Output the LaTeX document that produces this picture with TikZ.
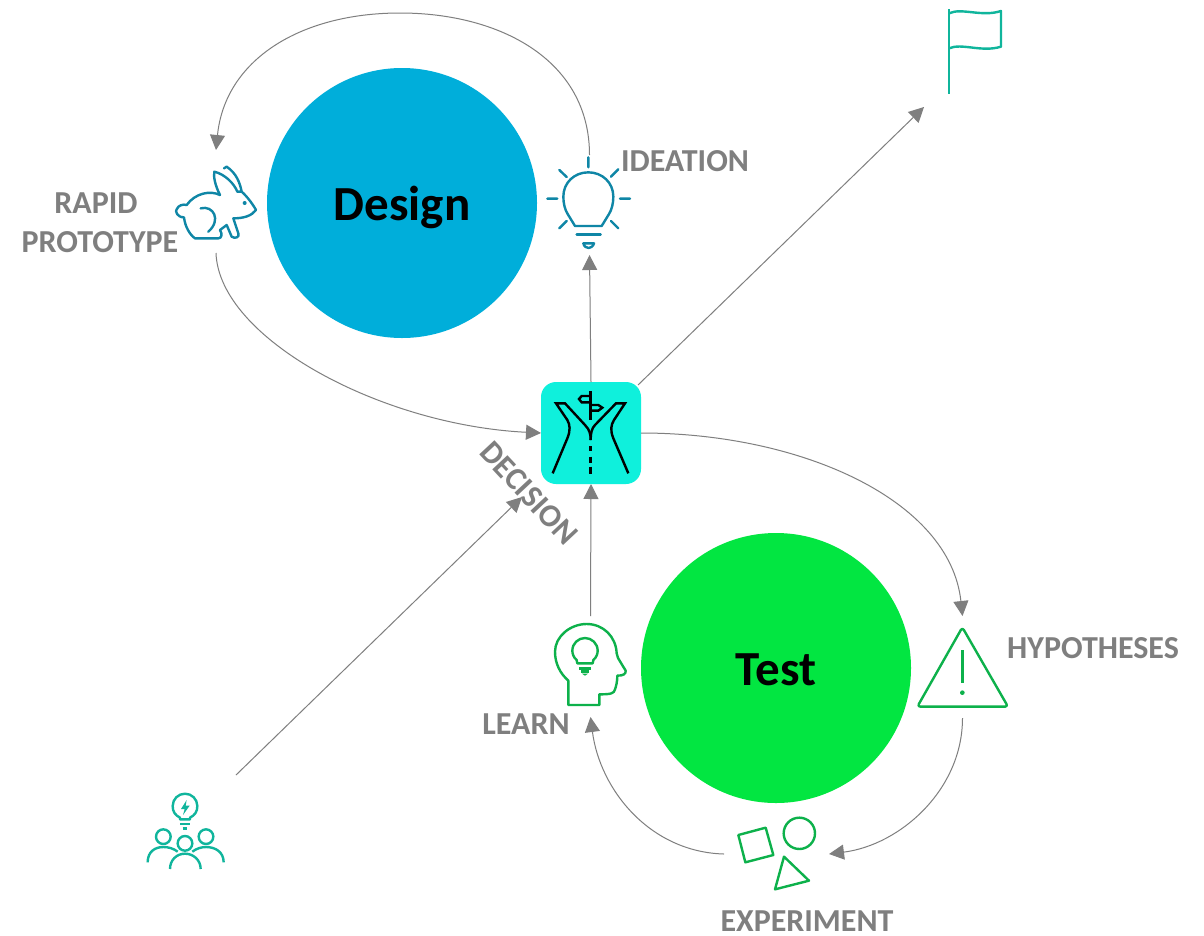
\documentclass[tikz,border=0pt]{standalone}
\usepackage{fontspec}
\setmainfont{Carlito}
\usetikzlibrary{arrows.meta,calc}
\definecolor{linkgray}{HTML}{7F7F7F}
\definecolor{designblue}{HTML}{00AEDA}
\definecolor{testgreen}{HTML}{02E641}
\definecolor{decisioncyan}{HTML}{0FF0DC}
\definecolor{iconblue}{HTML}{0F86A6}
\definecolor{iconteal}{HTML}{10B59C}
\definecolor{icongreen}{HTML}{0DB14B}
\tikzset{
  link/.style={draw=linkgray,line width=1pt,-{Triangle[length=15pt,width=15pt,fill=linkgray]}},
  bigcircle/.style={circle,minimum size=270pt,inner sep=0pt,font=\fontsize{49}{52}\selectfont\bfseries,text=black},
  label/.style={text=linkgray,inner sep=0pt,font=\fontsize{32}{35}\selectfont\bfseries,align=center},
  iconbox/.style={inner sep=0pt,outer sep=0pt,draw=none},
  blueicon/.style={draw=iconblue,line width=2.4pt,line join=round,line cap=round},
  tealicon/.style={draw=iconteal,line width=2.4pt,line join=round},
  greenicon/.style={draw=icongreen,line width=2.4pt,line join=round},
  roadicon/.style={draw=black,line width=2.4pt,line join=miter},
  zoomed/.style={shift={#1},scale=1/3}
}
\begin{document}
\begin{tikzpicture}[x=1pt,y=-1pt]
\useasboundingbox[fill=white] (0,0) rectangle (1204,935);
% main circles
\node[bigcircle,fill=designblue] (design) at (402,203) {\raisebox{-17pt}[0pt][0pt]{Design}};
\node[bigcircle,fill=testgreen] (test) at (776,668) {\raisebox{-17pt}[0pt][0pt]{Test}};
% decision
\node[iconbox,fill=decisioncyan,rounded corners=15pt,minimum width=100pt,minimum height=102pt] (decision) at (591,433) {};
% invisible icon frames
\node[iconbox,minimum width=82pt,minimum height=103pt] (rabbit) at (216,201.5) {};
\node[iconbox,minimum width=84pt,minimum height=100pt] (bulb) at (589.5,205) {};
\node[iconbox,minimum width=78pt,minimum height=99pt] (flag) at (963,57.5) {};
\node[iconbox,minimum width=71pt,minimum height=101pt] (learn) at (590.5,666.5) {};
\node[iconbox,minimum width=90pt,minimum height=102pt] (hypo) at (962.5,667) {};
\node[iconbox,minimum width=105pt,minimum height=70pt] (exper) at (776.5,854) {};
\node[iconbox,minimum width=100pt,minimum height=100pt] (team) at (186,825) {};
\coordinate (decisionin) at ($(decision.south west)+(-19,13)$);
\coordinate (decisionout) at ($(decision.north east)+(-3,3)$);
% connectors
\draw[link] (bulb.north) .. controls +(0,-95) and (500,13) .. (400,13) .. controls (300,13) and (225,60) .. (rabbit.north);
\draw[link] (rabbit.south) .. controls +(3,85) and (380,425) .. (decision.west);
\draw[link] (decision.north) -- (bulb.south);
\draw[link] (decisionout) -- (flag.south west);
\draw[link] (decision.east) .. controls +(160,0) and (950,500) .. (hypo.north);
\draw[link] (hypo.south) .. controls +(0,72) and (900,845) .. (exper.east);
\draw[link] (exper.west) .. controls +(-74,-2) and (600,790) .. (learn.south);
\draw[link] (learn.north) -- (decision.south);
\draw[link] (team.north east) -- (decisionin);
% labels
\node[label] (ideationtext) at (685,161) {IDEATION};
\node[label] (rapidtext) at (96,203) {RAPID};
\node[label] (prototext) at (100,242) {PROTOTYPE};
\node[label,rotate=-47] (decisiontext) at (529,493) {DECISION};
\node[label] (learntext) at (526,724) {LEARN};
\node[label] (hypotext) at (1093,648) {HYPOTHESES};
\node[label] (expertext) at (807,921) {EXPERIMENT};
% rabbit icon
\begin{scope}[zoomed={(160,140)}]
\draw[blueicon] (72,232) .. controls (50,232) and (45,212) .. (50,208) .. controls (55,195) and (70,192) .. (80,195)
 .. controls (105,160) and (150,150) .. (180,165) .. controls (165,135) and (160,110) .. (163,95)
 .. controls (195,103) and (222,130) .. (232,155) -- (245,155) .. controls (262,170) and (280,195) .. (288,210)
 .. controls (275,228) and (250,235) .. (220,235) -- (235,280) .. controls (240,292) and (225,297) .. (215,290)
 -- (200,255) -- (180,270) .. controls (188,282) and (185,295) .. (175,295) -- (105,295) .. controls (90,285) and (75,260) .. (72,232);
\draw[blueicon] (192,85) -- (200,80) .. controls (230,100) and (240,130) .. (245,155);
\draw[blueicon] (122,205) .. controls (160,195) and (185,240) .. (145,275);
\fill[iconblue] (254,189) circle (6);
\end{scope}
% bulb icon
\begin{scope}[zoomed={(530,140)}]
\draw[blueicon] (135,258) -- (113,222) .. controls (105,210) and (100,190) .. (100,170) .. controls (100,128) and (133,97) .. (175,97) .. controls (217,97) and (250,128) .. (250,170) .. controls (250,190) and (245,210) .. (237,222) -- (215,258) -- cycle;
\draw[blueicon] (175,52)--(175,82) (88,90)--(110,111) (265,88)--(243,110) (52,176)--(82,176) (270,176)--(300,176) (88,265)--(110,243) (265,265)--(243,243);
\draw[blueicon] (140,283)--(212,283);
\draw[blueicon] (160,310)--(192,310) .. controls (190,320) and (180,324) .. (176,324) .. controls (170,324) and (162,320) .. (160,310);
\end{scope}
% road icon
\begin{scope}[zoomed={(530,375)}]
\draw[roadicon] (68,295) -- (112,190) .. controls (122,165) and (120,150) .. (112,135) -- (78,85) -- (105,85) -- (165,150) .. controls (180,165) and (182,180) .. (182,195);
\draw[roadicon] (295,295) -- (250,190) .. controls (240,165) and (243,150) .. (252,135) -- (285,85) -- (258,85) -- (195,150) .. controls (185,160) and (182,175) .. (182,195);
\draw[roadicon] (182,48) -- (182,135);
\draw[roadicon] (182,63) -- (155,63) -- (147,72) -- (155,82) -- (182,82);
\draw[roadicon] (182,90) -- (205,90) -- (217,98) -- (205,107) -- (182,107);
\draw[roadicon] (182,213) -- (182,228);
\draw[roadicon,line width=3pt] (182,245) -- (182,265) (182,275) -- (182,296);
\end{scope}
% flag icon
\begin{scope}[zoomed={(905,0)}]
\draw[tealicon] (132,28) -- (132,282);
\draw[tealicon] (132,40) .. controls (170,22) and (230,52) .. (288,33) -- (288,140) .. controls (230,158) and (170,128) .. (132,145);
\end{scope}
% team icon
\begin{scope}[zoomed={(135,785)}]
\draw[tealicon] (135,103) -- (135,98) .. controls (120,90) and (113,80) .. (113,63) .. controls (113,42) and (130,26) .. (150,26) .. controls (170,26) and (187,42) .. (187,63) .. controls (187,80) and (180,90) .. (165,98) -- (165,103) -- cycle;
\draw[tealicon] (135,117) -- (165,117) (143,130) -- (157,130);
\fill[iconteal] (155,45) -- (138,72) -- (149,72) -- (144,90) -- (164,62) -- (152,62) -- cycle;
\draw[tealicon] (85,155) circle (22) (213,155) circle (22) (150,175) circle (22);
\draw[tealicon] (38,232) .. controls (38,200) and (60,186) .. (85,186) .. controls (100,186) and (115,190) .. (128,200);
\draw[tealicon] (266,232) .. controls (266,200) and (240,186) .. (213,186) .. controls (200,186) and (185,190) .. (172,200);
\draw[tealicon] (105,252) .. controls (105,225) and (125,206) .. (150,206) .. controls (175,206) and (197,225) .. (197,252);
\end{scope}
% head icon
\begin{scope}[zoomed={(540,610)}]
\draw[greenicon] (85,285) -- (85,212) .. controls (60,190) and (45,160) .. (45,125) .. controls (45,80) and (90,42) .. (140,42) .. controls (190,42) and (228,80) .. (230,130) .. controls (231,138) and (232,140) .. (234,144) -- (257,182) .. controls (258,192) and (250,197) .. (232,197) .. controls (232,215) and (228,230) .. (225,238) .. controls (222,250) and (215,253) .. (178,253) -- (178,285) -- cycle;
\draw[greenicon] (112,160) -- (110,150) .. controls (100,142) and (97,130) .. (97,122) .. controls (97,100) and (115,84) .. (135,84) .. controls (155,84) and (173,100) .. (173,122) .. controls (173,130) and (170,142) .. (160,150) -- (158,160) -- cycle;
\draw[greenicon] (118,175) -- (152,175) (124,184) -- (146,184);
\fill[icongreen] (126,191) -- (144,191) -- (135,197) -- cycle;
\end{scope}
% warning icon
\begin{scope}[zoomed={(910,620)}]
\draw[greenicon,rounded corners=3pt] (157,22) -- (294,260) -- (22,260) -- cycle;
\draw[greenicon] (157,90) -- (157,188);
\fill[icongreen] (157,218) circle (7);
\end{scope}
% experiment icon
\begin{scope}[zoomed={(720,800)}]
\draw[greenicon] (55,105) -- (137,83) -- (160,165) -- (76,187) -- cycle;
\draw[greenicon] (238,100) circle (47);
\draw[greenicon] (192,170) -- (267,242) -- (165,268) -- cycle;
\end{scope}
\end{tikzpicture}
\end{document}
